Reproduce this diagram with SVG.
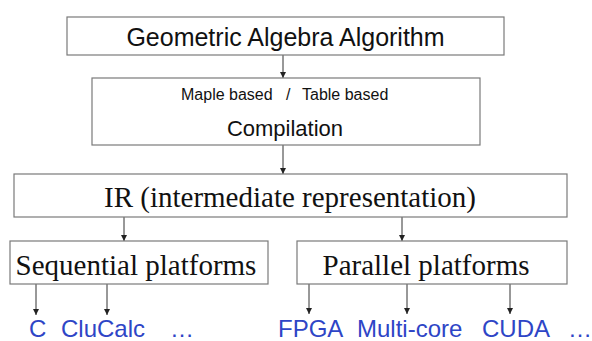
<svg xmlns="http://www.w3.org/2000/svg" width="592" height="341" viewBox="0 0 592 341">
<defs>
<marker id="ah" markerUnits="userSpaceOnUse" markerWidth="6" markerHeight="6" refX="6" refY="3" orient="auto">
<path d="M0,0 L6,3 L0,6 Z" fill="#222"/>
</marker>
<style>
.box{fill:#fff;stroke:#7a7a7a;stroke-width:1.2}
.sans{font-family:"Liberation Sans",Arial,sans-serif;fill:#111}
.serif{font-family:"Liberation Serif","Times New Roman",serif;fill:#111;font-size:29px}
.blue{font-family:"Liberation Sans",Arial,sans-serif;fill:#2E45C6;font-size:24px}
.con{stroke:#333;stroke-width:1;fill:none;marker-end:url(#ah)}
</style>
</defs>
<rect width="592" height="341" fill="#fff"/>
<g id="connectors">
<line class="con" x1="283" y1="55" x2="283" y2="78"/>
<line class="con" x1="283" y1="145" x2="283" y2="174"/>
<line class="con" x1="124" y1="217" x2="124" y2="241"/>
<line class="con" x1="402" y1="217" x2="402" y2="241"/>
<line class="con" x1="36" y1="284" x2="36" y2="315"/>
<line class="con" x1="107" y1="284" x2="107" y2="315"/>
<line class="con" x1="309" y1="284" x2="309" y2="314"/>
<line class="con" x1="407" y1="284" x2="407" y2="314"/>
<line class="con" x1="510" y1="284" x2="510" y2="314"/>
</g>
<g id="ga-algorithm">
<rect class="box" x="67" y="17" width="437" height="38"/>
<text class="sans" x="285.5" y="46" font-size="25" text-anchor="middle">Geometric Algebra Algorithm</text>
</g>
<g id="compilation">
<rect class="box" x="92" y="78" width="388" height="67"/>
<text class="sans" font-size="16" y="100"><tspan x="181">Maple based</tspan><tspan x="286">/</tspan><tspan x="302">Table based</tspan></text>
<text class="sans" x="285" y="136" font-size="22" text-anchor="middle">Compilation</text>
</g>
<g id="ir">
<rect class="box" x="14" y="174" width="553" height="43"/>
<text class="serif" x="290" y="207" text-anchor="middle">IR (intermediate representation)</text>
</g>
<g id="sequential">
<rect class="box" x="10" y="241" width="258" height="43"/>
<text class="serif" x="136" y="275" text-anchor="middle">Sequential platforms</text>
</g>
<g id="parallel">
<rect class="box" x="297" y="241" width="270" height="43"/>
<text class="serif" x="426" y="275" text-anchor="middle">Parallel platforms</text>
</g>
<g id="targets">
<text class="blue" x="29" y="337">C</text>
<text class="blue" x="61" y="337">CluCalc</text>
<text class="blue" x="170" y="337">…</text>
<text class="blue" x="278" y="337">FPGA</text>
<text class="blue" x="357" y="337">Multi-core</text>
<text class="blue" x="482" y="337">CUDA</text>
<text class="blue" x="568" y="337">…</text>
</g>
</svg>
